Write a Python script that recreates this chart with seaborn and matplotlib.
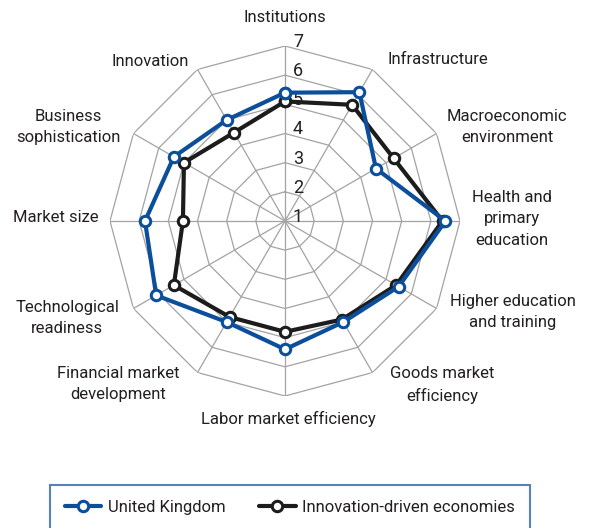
import numpy as np
import pandas as pd
import matplotlib
matplotlib.use("Agg")
import matplotlib.pyplot as plt
import matplotlib.transforms as mtransforms
from matplotlib.lines import Line2D
import seaborn as sns

categories = ["Institutions", "Infrastructure", "Macroeconomic\nenvironment",
              "Health and\nprimary\neducation", "Higher education\nand training",
              "Goods market\nefficiency", "Labor market efficiency",
              "Financial market\ndevelopment", "Technological\nreadiness",
              "Market size", "Business\nsophistication", "Innovation"]
uk_values = [5.4, 6.1, 4.6, 6.5, 5.5, 5.0, 5.4, 5.0, 6.1, 5.8, 5.4, 5.0]
idx_values = [5.1, 5.6, 5.3, 6.4, 5.4, 4.9, 4.8, 4.8, 5.4, 4.5, 5.0, 4.5]
series_names = ["United Kingdom", "Innovation-driven economies"]
tick_values = [1, 2, 3, 4, 5, 6, 7]

sns.set_theme(style="white")
plt.rcParams['font.family'] = ['Roboto', 'DejaVu Sans']
TXT = "#231f20"
BLUE = "#0b4f9c"
BLACK = "#1c1c1c"
GRID = "#a3a3a3"
FS = 12

W, H = 589, 528
fig = plt.figure(figsize=(W / 100, H / 100), dpi=100)
cx, cy, R = 285, 221, 175
ax = fig.add_axes([(cx - R) / W, 1 - (cy + R) / H, 2 * R / W, 2 * R / H], projection="polar")
ax.set_theta_zero_location("N")
ax.set_theta_direction(-1)
ax.set_ylim(1, 7)
ax.grid(False)
ax.set_xticks([])
ax.set_yticks([])
ax.spines["polar"].set_visible(False)
ax.patch.set_alpha(0)

n = len(categories)
angles = np.linspace(0, 2 * np.pi, n, endpoint=False)
closed = np.append(angles, angles[0] + 2 * np.pi)

# grid polygons and spokes
for r in tick_values[1:]:
    ax.plot(closed, [r] * (n + 1), color=GRID, lw=0.9, zorder=1)
for a in angles:
    ax.plot([a, a], [1, 7], color=GRID, lw=0.9, zorder=1)

rows = []
for name, vals in zip(series_names, [uk_values, idx_values]):
    v = list(vals) + [vals[0]]
    for i, (t, val) in enumerate(zip(closed, v)):
        rows.append({"series": name, "theta": t, "value": val, "order": i})
df = pd.DataFrame(rows)

for name, col, z in [(series_names[1], BLACK, 3), (series_names[0], BLUE, 4)]:
    sub = df[df.series == name]
    sns.lineplot(data=sub, x="theta", y="value", sort=False, estimator=None, ax=ax,
                 color=col, lw=3.0, marker="o", ms=7.5, mfc="white", mec=col, mew=2.2,
                 zorder=z, legend=False)
ax.set_xlabel("")
ax.set_ylabel("")
ax.set_ylim(1, 7)

# radial tick labels
off = mtransforms.offset_copy(ax.transData, fig=fig, x=8, y=4, units="dots")
for v in tick_values:
    ax.text(0, v, str(v), transform=off, ha="left", va="center", fontsize=13, color=TXT)

# category labels (pixel positions of label centres)
label_pos = [(285, 18), (438, 60), (507, 127), (512, 219), (513, 312), (442, 385),
             (288, 419), (118, 384), (67, 318), (56, 217), (68, 127), (150, 61)]
for lab, (px, py) in zip(categories, label_pos):
    fig.text(px / W, 1 - py / H, lab, ha="center", va="center", fontsize=FS,
             color=TXT, linespacing=1.58)

# legend
handles = [Line2D([], [], color=c, lw=3.0, marker="o", ms=7.5, mfc="white", mec=c, mew=2.2)
           for c in (BLUE, BLACK)]
leg = fig.legend(handles, series_names, loc="upper center",
                 bbox_to_anchor=(290 / W, 1 - 485 / H),
                 ncol=2, frameon=True, fancybox=False, fontsize=FS,
                 handlelength=2.2, handletextpad=0.4, columnspacing=2.0,
                 borderpad=0.9, borderaxespad=0)
leg.get_frame().set_edgecolor("#2a64a8")
leg.get_frame().set_linewidth(1.5)
for t in leg.get_texts():
    t.set_color(TXT)

fig.savefig("out.png", dpi=100)
